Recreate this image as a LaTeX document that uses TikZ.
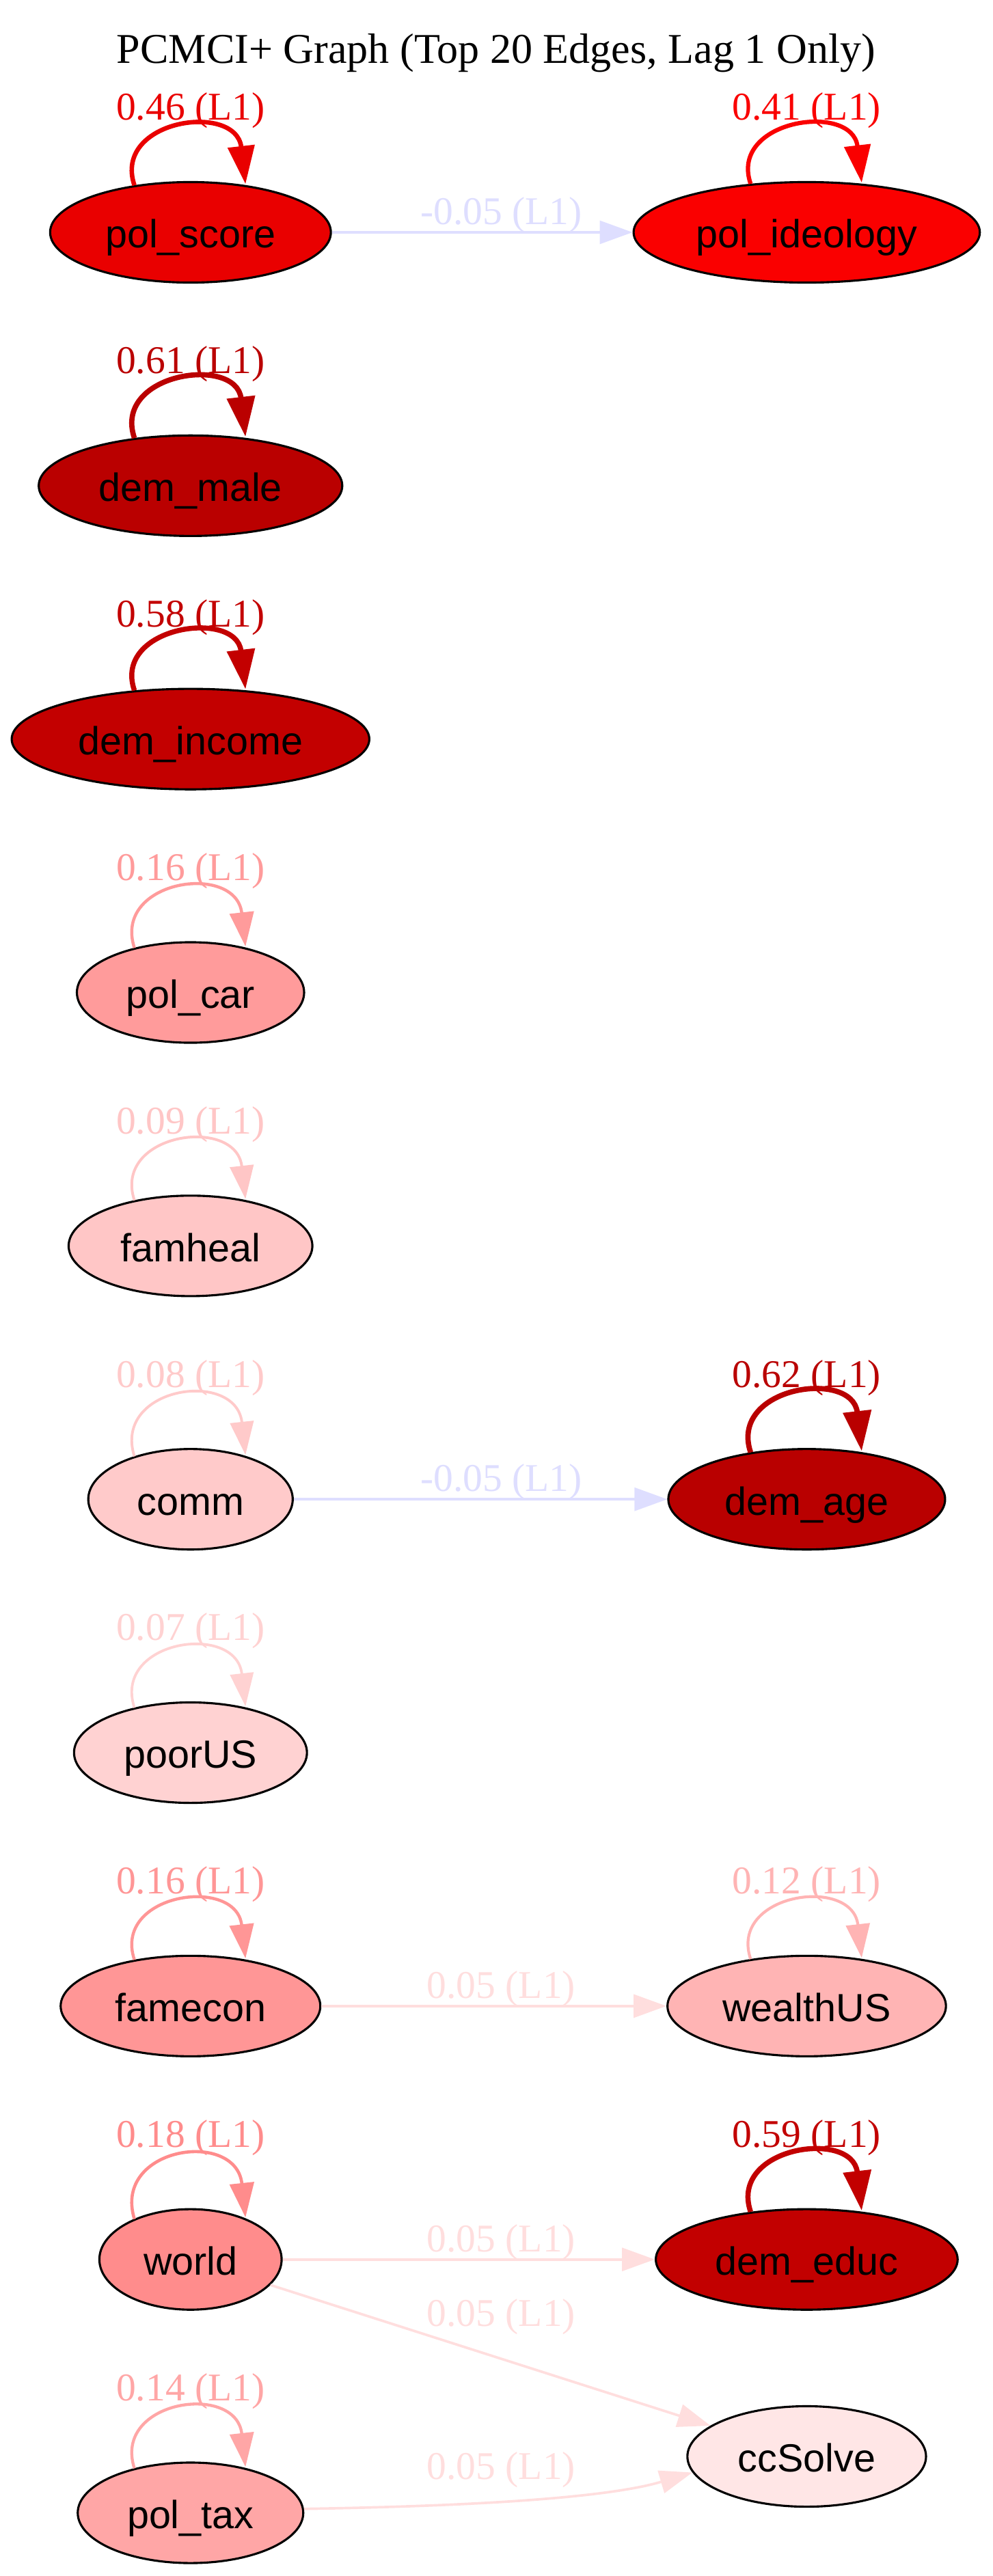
\documentclass[tikz,border=0pt]{standalone}
\usepackage{fontspec}
\setmainfont{Liberation Serif}
\newfontfamily\nodefont{Liberation Sans}
\usetikzlibrary{arrows.meta,shapes.geometric,calc}

\definecolor{cPS}{HTML}{E90000}
\definecolor{cPI}{HTML}{FA0000}
\definecolor{cDM}{HTML}{BA0000}
\definecolor{cDI}{HTML}{C30000}
\definecolor{cPC}{HTML}{FF9B9B}
\definecolor{cFH}{HTML}{FFC6C6}
\definecolor{cCO}{HTML}{FFCACA}
\definecolor{cDA}{HTML}{B90000}
\definecolor{cPU}{HTML}{FFD2D2}
\definecolor{cFE}{HTML}{FF9696}
\definecolor{cWU}{HTML}{FFB4B4}
\definecolor{cWO}{HTML}{FF8C8C}
\definecolor{cDE}{HTML}{C20000}
\definecolor{cCS}{HTML}{FFE6E6}
\definecolor{cPT}{HTML}{FFA6A6}
\definecolor{cPos}{HTML}{FFDEDE}
\definecolor{cNeg}{HTML}{DEDEFF}

% #1 node, #2 half width, #3 colour, #4 weight, #5 label
\newcommand\myselfloop[5]{%
  \pgfmathsetmacro\myFA{18*sqrt(1-(19.7/#2)^2)}%
  \pgfmathsetmacro\myFB{18*sqrt(1-(19.3/#2)^2)+0.4}%
  \pgfmathsetmacro\myLW{0.8+1.7*#4}%
  \pgfmathsetmacro\myAL{11.3+4.5*#4}%
  \pgfmathsetmacro\myAW{8+2.7*#4}%
  \draw[draw=#3, line width=\myLW pt, -{Triangle[length=\myAL pt, width=\myAW pt]}]
    ($(#1.center)+(-19.7,\myFA)$) .. controls ($(#1.center)+(-27.5,39.6)$) and ($(#1.center)+(16.0,45.9)$) .. ($(#1.center)+(19.3,\myFB)$);
  \node[lbl, text=#3, anchor=base] (#1-loop) at ($(#1.center)+(0,39.4)$) {#5};
}

\begin{document}
\begin{tikzpicture}[x=1pt,y=1pt,
  nd/.style={ellipse, draw=black, line width=0.75pt, minimum height=35.3pt, inner sep=0pt,
    font=\nodefont\fontsize{13.8}{14}\selectfont, text height=12pt, text depth=1pt},
  lbl/.style={font=\fontsize{13.8}{14}\selectfont, inner sep=0pt},
  ttl/.style={font=\fontsize{14.9}{16}\selectfont, inner sep=0pt},
  edg/.style={line width=0.885pt, -{Triangle[length=11.5pt,width=8.1pt]}}
]
\useasboundingbox (0,0) rectangle (348.5,-904.8);

\node[ttl, anchor=base] (title) at (174.25,-22.2) {PCMCI+ Graph (Top 20 Edges, Lag 1 Only)};

% nodes
\node[nd, fill=cPS, minimum width=98.6pt]  (pol_score)    at (66.9,-81.6)  {pol\_score};
\node[nd, fill=cPI, minimum width=121.6pt] (pol_ideology) at (283.3,-81.6) {pol\_ideology};
\node[nd, fill=cDM, minimum width=106.6pt] (dem_male)     at (66.9,-170.6) {dem\_male};
\node[nd, fill=cDI, minimum width=125.6pt] (dem_income)   at (66.9,-259.6) {dem\_income};
\node[nd, fill=cPC, minimum width=79.8pt]  (pol_car)      at (66.9,-348.6) {pol\_car};
\node[nd, fill=cFH, minimum width=85.6pt]  (famheal)      at (66.9,-437.6) {famheal};
\node[nd, fill=cCO, minimum width=71.8pt]  (comm)         at (66.9,-526.6) {comm};
\node[nd, fill=cDA, minimum width=97.2pt]  (dem_age)      at (283.3,-526.6) {dem\_age};
\node[nd, fill=cPU, minimum width=81.8pt]  (poorUS)       at (66.9,-615.6) {poorUS};
\node[nd, fill=cFE, minimum width=91.2pt]  (famecon)      at (66.9,-704.6) {famecon};
\node[nd, fill=cWU, minimum width=97.8pt]  (wealthUS)     at (283.3,-704.6) {wealthUS};
\node[nd, fill=cWO, minimum width=64.0pt]  (world)        at (66.9,-793.6) {world};
\node[nd, fill=cDE, minimum width=106.0pt] (dem_educ)     at (283.3,-793.6) {dem\_educ};
\node[nd, fill=cCS, minimum width=83.8pt]  (ccSolve)      at (283.3,-862.8) {ccSolve};
\node[nd, fill=cPT, minimum width=79.2pt]  (pol_tax)      at (66.9,-882.6) {pol\_tax};

% self loops
\myselfloop{pol_score}{49.3}{cPS}{0.46}{0.46 (L1)}
\myselfloop{pol_ideology}{60.8}{cPI}{0.41}{0.41 (L1)}
\myselfloop{dem_male}{53.3}{cDM}{0.61}{0.61 (L1)}
\myselfloop{dem_income}{62.8}{cDI}{0.58}{0.58 (L1)}
\myselfloop{pol_car}{39.9}{cPC}{0.16}{0.16 (L1)}
\myselfloop{famheal}{42.8}{cFH}{0.09}{0.09 (L1)}
\myselfloop{comm}{35.9}{cCO}{0.08}{0.08 (L1)}
\myselfloop{dem_age}{48.6}{cDA}{0.62}{0.62 (L1)}
\myselfloop{poorUS}{40.9}{cPU}{0.07}{0.07 (L1)}
\myselfloop{famecon}{45.6}{cFE}{0.16}{0.16 (L1)}
\myselfloop{wealthUS}{48.9}{cWU}{0.12}{0.12 (L1)}
\myselfloop{world}{32.0}{cWO}{0.18}{0.18 (L1)}
\myselfloop{dem_educ}{53.0}{cDE}{0.59}{0.59 (L1)}
\myselfloop{pol_tax}{39.6}{cPT}{0.14}{0.14 (L1)}

% edges between nodes
\draw[edg, draw=cNeg] (pol_score) -- (pol_ideology);
\draw[edg, draw=cNeg] (comm) -- (dem_age);
\draw[edg, draw=cPos] (famecon) -- (wealthUS);
\draw[edg, draw=cPos] (world) -- (dem_educ);
\draw[edg, draw=cPos] (world) -- (ccSolve);
\draw[edg, draw=cPos] (pol_tax.2) .. controls ($(pol_tax.2)+(43.1,0.7)$) and ($(ccSolve.188)+(-33.5,-10)$) .. (ccSolve.188);

% edge labels
\node[lbl, text=cNeg, anchor=base] (e1) at (176,-78.9)  {-0.05 (L1)};
\node[lbl, text=cNeg, anchor=base] (e2) at (176,-523.9) {-0.05 (L1)};
\node[lbl, text=cPos, anchor=base] (e3) at (176,-701.9) {0.05 (L1)};
\node[lbl, text=cPos, anchor=base] (e4) at (176,-790.9) {0.05 (L1)};
\node[lbl, text=cPos, anchor=base] (e5) at (176,-817.0) {0.05 (L1)};
\node[lbl, text=cPos, anchor=base] (e6) at (176,-870.8) {0.05 (L1)};
\end{tikzpicture}
\end{document}
